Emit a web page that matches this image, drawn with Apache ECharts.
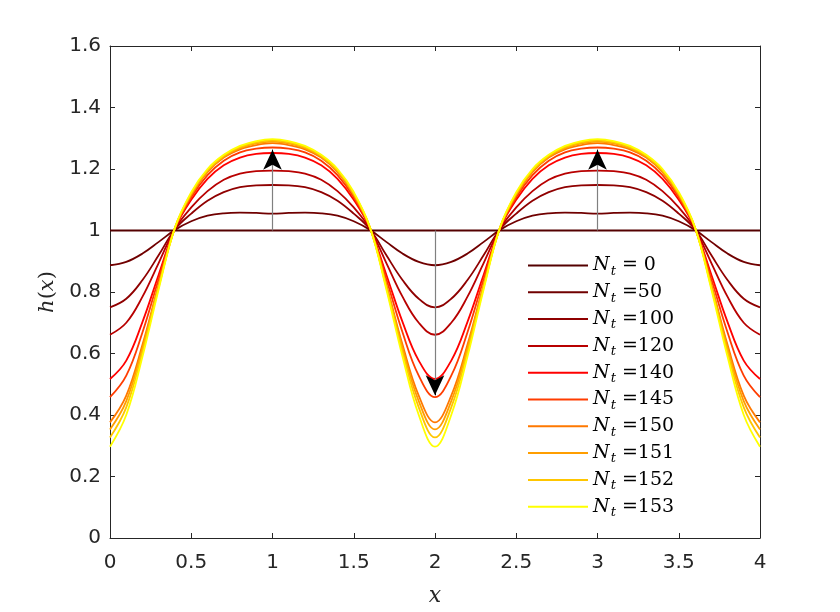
<!DOCTYPE html>
<html><head><meta charset="utf-8">
<script src="https://cdn.jsdelivr.net/npm/echarts@6/dist/echarts.min.js"></script>
<style>html,body{margin:0;padding:0;background:#fff}#c{width:840px;height:612px}</style>
</head><body><div id="c"></div>
<script>
const xValues = [0,0.1,0.2,0.3,0.4,0.5,0.6,0.7,0.8,0.9,1,1.1,1.2,1.3,1.4,1.5,1.6,1.7,1.8,1.9,2,2.1,2.2,2.3,2.4,2.5,2.6,2.7,2.8,2.9,3,3.1,3.2,3.3,3.4,3.5,3.6,3.7,3.8,3.9,4];

const hN0 = [1,1,1,1,1,1,1,1,1,1,1,1,1,1,1,1,1,1,1,1,1,1,1,1,1,1,1,1,1,1,1,1,1,1,1,1,1,1,1,1,1];
const hN50 = [0.887,0.898,0.925,0.963,1.002,1.030,1.048,1.056,1.058,1.057,1.055,1.057,1.058,1.056,1.048,1.030,1.002,0.963,0.925,0.898,0.887,0.898,0.925,0.963,1.002,1.030,1.048,1.056,1.058,1.057,1.055,1.057,1.058,1.056,1.048,1.030,1.002,0.963,0.925,0.898,0.887];
const hN100 = [0.750,0.778,0.839,0.920,1.004,1.055,1.097,1.125,1.141,1.147,1.148,1.147,1.141,1.125,1.097,1.055,1.004,0.920,0.839,0.778,0.750,0.778,0.839,0.920,1.004,1.055,1.097,1.125,1.141,1.147,1.148,1.147,1.141,1.125,1.097,1.055,1.004,0.920,0.839,0.778,0.750];
const hN120 = [0.661,0.700,0.785,0.895,1.005,1.075,1.128,1.165,1.185,1.193,1.195,1.193,1.185,1.165,1.128,1.075,1.005,0.895,0.785,0.700,0.661,0.700,0.785,0.895,1.005,1.075,1.128,1.165,1.185,1.193,1.195,1.193,1.185,1.165,1.128,1.075,1.005,0.895,0.785,0.700,0.661];
const hN140 = [0.517,0.577,0.703,0.857,1.007,1.100,1.168,1.212,1.237,1.249,1.252,1.249,1.237,1.212,1.168,1.100,1.007,0.857,0.703,0.577,0.517,0.577,0.703,0.857,1.007,1.100,1.168,1.212,1.237,1.249,1.252,1.249,1.237,1.212,1.168,1.100,1.007,0.857,0.703,0.577,0.517];
const hN145 = [0.458,0.528,0.669,0.843,1.008,1.108,1.180,1.227,1.254,1.266,1.270,1.266,1.254,1.227,1.180,1.108,1.008,0.843,0.669,0.528,0.458,0.528,0.669,0.843,1.008,1.108,1.180,1.227,1.254,1.266,1.270,1.266,1.254,1.227,1.180,1.108,1.008,0.843,0.669,0.528,0.458];
const hN150 = [0.376,0.463,0.629,0.825,1.009,1.115,1.190,1.237,1.264,1.278,1.284,1.278,1.264,1.237,1.190,1.115,1.009,0.825,0.629,0.463,0.376,0.463,0.629,0.825,1.009,1.115,1.190,1.237,1.264,1.278,1.284,1.278,1.264,1.237,1.190,1.115,1.009,0.825,0.629,0.463,0.376];
const hN151 = [0.353,0.445,0.618,0.821,1.009,1.118,1.193,1.240,1.268,1.283,1.289,1.283,1.268,1.240,1.193,1.118,1.009,0.821,0.618,0.445,0.353,0.445,0.618,0.821,1.009,1.118,1.193,1.240,1.268,1.283,1.289,1.283,1.268,1.240,1.193,1.118,1.009,0.821,0.618,0.445,0.353];
const hN152 = [0.327,0.425,0.605,0.816,1.010,1.121,1.196,1.243,1.271,1.287,1.293,1.287,1.271,1.243,1.196,1.121,1.010,0.816,0.605,0.425,0.327,0.425,0.605,0.816,1.010,1.121,1.196,1.243,1.271,1.287,1.293,1.287,1.271,1.243,1.196,1.121,1.010,0.816,0.605,0.425,0.327];
const hN153 = [0.297,0.400,0.590,0.810,1.010,1.125,1.200,1.246,1.275,1.291,1.297,1.291,1.275,1.246,1.200,1.125,1.010,0.810,0.590,0.400,0.297,0.400,0.590,0.810,1.010,1.125,1.200,1.246,1.275,1.291,1.297,1.291,1.275,1.246,1.200,1.125,1.010,0.810,0.590,0.400,0.297];

const ntLabels = ['0','50','100','120','140','145','150','151','152','153'];
const seriesValues = [hN0,hN50,hN100,hN120,hN140,hN145,hN150,hN151,hN152,hN153];
const colors = ['#540000','#700000','#8f0000','#b80000','#ff0000','#ff3c00','#ff7800','#ff9e00','#ffc600','#ffff00'];

// arrows: x position, start value, tip value
const arrowX = [1, 2, 3];
const arrowFrom = [1, 1, 1];
const arrowTo = [1.263, 0.464, 1.263];

const xTicks = {min:0, max:4, interval:0.5};
const yTicks = {min:0, max:1.6, interval:0.2};

const axisColor = '#262626';
const serif = 'DejaVu Serif';

const lineSeries = ntLabels.map((lab, i) => ({
  name: lab,
  type: 'line',
  data: xValues.map((x, j) => [x, seriesValues[i][j]]),
  symbol: 'none',
  showSymbol: false,
  smooth: 0.4,
  lineStyle: {color: colors[i], width: 1.8},
  itemStyle: {color: colors[i]},
  emphasis: {disabled: true},
  z: 2
}));

const shaftSeries = {
  name: '__shafts', type: 'line', data: [], z: 5,
  markLine: {
    silent: true, symbol: ['none','none'], animation: false,
    label: {show: false},
    lineStyle: {color: '#808080', width: 1.2, type: 'solid'},
    data: arrowX.map((x, i) => {
      const dir = arrowTo[i] > arrowFrom[i] ? 1 : -1;
      return [{coord: [x, arrowFrom[i]]}, {coord: [x, arrowTo[i] - dir * 0.03]}];
    })
  }
};
const headSeries = {
  name: '__heads', type: 'line', data: [], z: 6,
  markLine: {
    silent: true, symbol: ['none','arrow'], symbolSize: [14, 20], animation: false,
    label: {show: false},
    lineStyle: {color: '#000', width: 1, type: 'solid'},
    data: arrowX.map((x, i) => {
      const dir = arrowTo[i] > arrowFrom[i] ? 1 : -1;
      return [{coord: [x, arrowTo[i] - dir * 0.02]}, {coord: [x, arrowTo[i]]}];
    })
  }
};

const legendRich = {
  n: {fontFamily: serif, fontStyle: 'italic', fontSize: 19, lineHeight: 24, color: '#000'},
  t: {fontFamily: serif, fontStyle: 'italic', fontSize: 13, lineHeight: 12, padding: [12, 0, 0, 1], color: '#000'},
  e: {fontFamily: serif, fontSize: 19, lineHeight: 24, color: '#000'}
};

const chart = echarts.init(document.getElementById('c'), null, {renderer: 'canvas'});
chart.setOption({
  animation: false,
  backgroundColor: '#fff',
  grid: {left: 110, right: 80, top: 46, bottom: 72, containLabel: false},
  xAxis: [{
    type: 'value', min: xTicks.min, max: xTicks.max, interval: xTicks.interval,
    name: 'x', nameLocation: 'middle', nameGap: 47,
    nameTextStyle: {fontFamily: serif, fontStyle: 'italic', fontSize: 22, color: axisColor},
    axisLine: {show: true, onZero: false, lineStyle: {color: axisColor, width: 1}},
    axisTick: {show: true, inside: true, length: 5, lineStyle: {color: axisColor}},
    axisLabel: {show: true, margin: 15, fontFamily: 'DejaVu Sans', fontSize: 20, color: axisColor},
    splitLine: {show: false}
  }, {
    type: 'value', position: 'top', min: xTicks.min, max: xTicks.max, interval: xTicks.interval,
    axisLine: {show: true, onZero: false, lineStyle: {color: axisColor, width: 1}},
    axisTick: {show: true, inside: true, length: 5, lineStyle: {color: axisColor}},
    axisLabel: {show: false}, splitLine: {show: false}
  }],
  yAxis: [{
    type: 'value', min: yTicks.min, max: yTicks.max, interval: yTicks.interval,
    name: '{i|h}{u|(}{i|x}{u|)}', nameLocation: 'middle', nameGap: 50, nameRotate: 90,
    nameTextStyle: {
      rich: {
        i: {fontFamily: serif, fontStyle: 'italic', fontSize: 21, color: axisColor},
        u: {fontFamily: serif, fontSize: 21, color: axisColor}
      }
    },
    axisLine: {show: true, onZero: false, lineStyle: {color: axisColor, width: 1}},
    axisTick: {show: true, inside: true, length: 5, lineStyle: {color: axisColor}},
    axisLabel: {show: true, margin: 9, fontFamily: 'DejaVu Sans', fontSize: 20, color: axisColor},
    splitLine: {show: false}
  }, {
    type: 'value', position: 'right', min: yTicks.min, max: yTicks.max, interval: yTicks.interval,
    axisLine: {show: true, onZero: false, lineStyle: {color: axisColor, width: 1}},
    axisTick: {show: true, inside: true, length: 5, lineStyle: {color: axisColor}},
    axisLabel: {show: false}, splitLine: {show: false}
  }],
  legend: {
    data: ntLabels,
    orient: 'vertical',
    left: 528, top: 253, padding: 0,
    icon: 'rect',
    itemWidth: 60, itemHeight: 2, itemGap: 1.8,
    selectedMode: false,
    formatter: function (name) {
      return name === '0' ? '{n|N}{t|t}{e| = 0}' : '{n|N}{t|t}{e| =' + name + '}';
    },
    textStyle: {rich: legendRich}
  },
  series: lineSeries.concat([shaftSeries, headSeries])
});
</script></body></html>
